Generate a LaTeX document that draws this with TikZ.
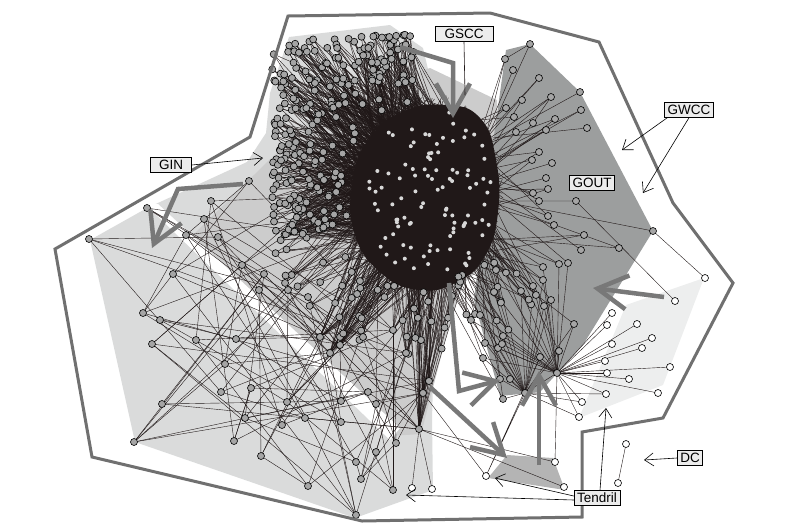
\documentclass[tikz,border=0pt]{standalone}
\usepackage{fontspec}
\setmainfont{Liberation Sans}
\usetikzlibrary{arrows.meta}

\definecolor{ginfill}{RGB}{218,219,219}
\definecolor{gsccfill}{RGB}{204,204,204}
\definecolor{goutfill}{RGB}{156,158,158}
\definecolor{tendfill}{RGB}{237,238,238}
\definecolor{tendmid}{RGB}{180,180,180}
\definecolor{wccline}{RGB}{112,112,112}
\definecolor{bigarrow}{RGB}{120,120,120}
\definecolor{edgeblack}{RGB}{32,24,24}
\definecolor{nodegray}{RGB}{165,165,165}
\definecolor{dotgray}{RGB}{215,215,215}
\definecolor{labfill}{RGB}{236,236,236}

\begin{document}
\begin{tikzpicture}[x=1pt, y=-1pt,
    vtx/.style={circle, draw=black, fill=nodegray, line width=0.6pt, inner sep=0pt, minimum size=7pt},
    wvtx/.style={vtx, fill=white},
    sdot/.style={circle, fill=dotgray, inner sep=0pt, minimum size=4pt},
    edge/.style={draw=edgeblack, line width=0.4pt},
    lab/.style={rectangle, draw=black, fill=labfill, line width=0.6pt, inner xsep=3pt, inner ysep=2.5pt, text height=9.8pt, text depth=0pt, font=\fontsize{13.5}{15}\selectfont},
    pointer/.style={draw=black, line width=0.6pt, -{Straight Barb[length=9pt,width=13pt]}},
    flow/.style={draw=bigarrow, line width=4.5pt, line join=miter, -{Straight Barb[length=30pt,width=34pt]}}
  ]
  \useasboundingbox (0,0) rectangle (792,531);

  % component areas
  \fill[ginfill] (289,37) -- (390,25) -- (423,48) -- (440,120) -- (432,420) -- (433,490) -- (355,518) -- (135,442) -- (90,240) -- (147,208) -- (247,162) -- (266,133) -- (270,93) -- cycle;
  \fill[gsccfill] (190,238) -- (320,110) -- (430,68) -- (497,100) -- (500,250) -- (462,285) -- (448,330) -- (421,434) -- (390,436) -- cycle;
  \fill[white] (145,204) -- (158,204) -- (400,428) -- (390,440) -- cycle;
  \fill[goutfill] (506,50) -- (530,44) -- (580,92) -- (653,231) -- (583,345) -- (540,392) -- (500,396) -- (474,300) -- (492,150) -- cycle;
  \fill[tendfill] (626,305) -- (704,278) -- (663,385) -- (579,418) -- cycle;
  \fill[tendmid] (488,478) -- (507,455) -- (553,458) -- (565,490) -- cycle;

  % named vertices
  \foreach \x/\y [count=\n] in {147/208, 89/239, 211/201, 204/219, 186/235, 218/237, 173/274, 264/274, 143/313, 160/320, 152/344, 196/340, 236/339, 225/364, 221/392, 162/404, 134/442, 234/441, 245/418, 251/388, 261/456, 282/425, 287/402, 305/418, 308/486, 356/462, 361/479, 393/490, 356/515, 341/422, 341/401, 368/392, 376/404, 376/452, 396/443, 249/181, 242/265, 259/290, 288/290, 308/297, 363/337}
    \coordinate (l\n) at (\x,\y);
  \foreach \x/\y [count=\n] in {419/429, 423/393, 406/353, 429/381, 393/330, 320/337, 330/353, 340/345}
    \coordinate (h\n) at (\x,\y);
  \foreach \x/\y [count=\n] in {530/44, 505/59, 513/70, 539/78, 522/100, 551/97, 580/92, 581/110, 587/128, 555/119, 533/123, 546/130, 514/117, 506/108, 516/132, 539/152, 552/163, 532/160, 546/178, 548/189, 576/201, 533/193, 539/201, 548/216, 554/225, 584/235, 653/231, 619/248, 581/250, 559/264, 568/263, 543/267, 496/270, 543/280, 521/291, 533/286, 551/300, 544/306, 574/324, 471/320, 480/315, 494/292, 503/336, 485/343, 498/348, 502/344, 483/358, 540/357, 559/351, 500/379, 510/379, 503/399}
    \coordinate (o\n) at (\x,\y);
  \coordinate (t1) at (557,373);
  \coordinate (t2) at (525,393);
  \foreach \x/\y [count=\n] in {612/313, 607/325, 637/324, 612/344, 652/338, 642/348, 605/361, 607/373, 670/367, 629/379, 606/394, 658/393, 582/402, 579/417}
    \coordinate (w\n) at (\x,\y);
  \foreach \x/\y [count=\n] in {412/488, 432/489, 486/476, 555/462, 564/487, 705/278, 675/301, 626/444, 618/483}
    \coordinate (b\n) at (\x,\y);

  \pgfmathsetseed{3}
  % in-component fan
  \foreach \i in {1,...,240}{
    \pgfmathsetmacro{\ang}{152+116*rnd}
    \pgfmathsetmacro{\rmax}{min(150/max(abs(cos(\ang)),0.01),150/max(abs(sin(\ang)),0.01),120/max(sin(\ang),0.01))-4}
    \pgfmathsetmacro{\rad}{72+(\rmax-72)*rnd^0.6}
    \coordinate (g\i) at ({418+\rad*cos(\ang)},{180+\rad*sin(\ang)});
    \foreach \k in {1,2,3}{
      \pgfmathsetmacro{\ta}{360*rnd}
      \pgfmathsetmacro{\tr}{sqrt(rnd)}
      \draw[edge] (g\i) -- ({428+60*\tr*cos(\ta)},{192+80*\tr*sin(\ta)});
    }
  }
  % nodes below the core
  \foreach \i in {1,...,60}{
    \pgfmathsetmacro{\ang}{40+115*rnd}
    \pgfmathsetmacro{\rad}{100+75*rnd}
    \coordinate (s\i) at ({415+\rad*cos(\ang)},{185+\rad*sin(\ang)});
    \foreach \k in {1,2,3}{
      \pgfmathsetmacro{\ta}{360*rnd}
      \pgfmathsetmacro{\tr}{sqrt(rnd)}
      \draw[edge] (s\i) -- ({428+60*\tr*cos(\ta)},{192+80*\tr*sin(\ta)});
    }
  }
  % hubs with dense fans
  \foreach \n/\m in {1/22, 2/12, 3/10, 4/10, 5/8, 6/14, 7/14, 8/14}{
    \foreach \k in {1,...,\m}{
      \pgfmathsetmacro{\ta}{360*rnd}
      \pgfmathsetmacro{\tr}{sqrt(rnd)}
      \draw[edge] (h\n) -- ({428+60*\tr*cos(\ta)},{192+80*\tr*sin(\ta)});
    }
  }
  % sparse lower left part
  \foreach \n in {1,...,41}{
    \pgfmathtruncatemacro{\ta}{mod(\n*7,41)+1}
    \pgfmathtruncatemacro{\hc}{mod(\n,8)+1}
    \draw[edge] (l\n) -- (l\ta);
    \draw[edge] (l\n) -- (h\hc);
  }
  \foreach \n in {2,5,...,41}{
    \pgfmathtruncatemacro{\tb}{mod(\n*17+5,41)+1}
    \draw[edge] (l\n) -- (l\tb);
  }
  \foreach \n in {1,3,...,41}{
    \pgfmathsetmacro{\ta}{360*rnd}
    \pgfmathsetmacro{\tr}{sqrt(rnd)}
    \draw[edge] (l\n) -- ({428+60*\tr*cos(\ta)},{192+80*\tr*sin(\ta)});
  }
  % out-component
  \foreach \n in {1,...,52}{
    \pgfmathsetmacro{\ta}{360*rnd}
    \pgfmathsetmacro{\tr}{sqrt(rnd)}
    \draw[edge] (o\n) -- ({428+60*\tr*cos(\ta)},{192+80*\tr*sin(\ta)});
  }
  \foreach \n in {2,4,...,52}{
    \pgfmathsetmacro{\ta}{360*rnd}
    \pgfmathsetmacro{\tr}{sqrt(rnd)}
    \draw[edge] (o\n) -- ({428+60*\tr*cos(\ta)},{192+80*\tr*sin(\ta)});
  }
  \foreach \n in {33,...,52} \draw[edge] (o\n) -- (t2);
  \foreach \n in {30,...,49} \draw[edge] (o\n) -- (t1);
  \draw[edge] (o1) -- (o2) (o6) -- (o11) (o27) -- (b6) (o21) -- (b7);
  % tendrils and small parts
  \foreach \n in {1,...,14} \draw[edge] (t1) -- (w\n);
  \draw[edge] (t2) -- (w11) (t2) -- (w13) (t2) -- (w14) (t1) -- (t2);
  \draw[edge] (h1) -- (b1) (h1) -- (b2) (h1) -- (b4) (h1) -- (b5) (t1) -- (b4);
  \draw[edge] (t2) -- (b3) (o48) -- (b3) (h2) -- (b3);
  \draw[edge] (b8) -- (b9);

  % strongly connected core
  \fill[edgeblack] plot[smooth cycle, tension=0.8] coordinates {(445,105) (480,118) (496,160) (498,212) (485,256) (457,282) (418,290) (380,272) (355,235) (352,185) (368,140) (402,112)};
  \foreach \i in {1,...,600}{
    \pgfmathsetmacro{\aa}{360*rnd}
    \pgfmathsetmacro{\ra}{sqrt(rnd)}
    \pgfmathsetmacro{\ab}{360*rnd}
    \pgfmathsetmacro{\rb}{sqrt(rnd)}
    \draw[edge] ({428+76*\ra*cos(\aa)},{192+100*\ra*sin(\aa)}) -- ({428+76*\rb*cos(\ab)},{192+100*\rb*sin(\ab)});
  }
  \foreach \i in {1,...,100}{
    \pgfmathsetmacro{\ta}{360*rnd}
    \pgfmathsetmacro{\tr}{sqrt(rnd)}
    \node[sdot] at ({430+64*\tr*cos(\ta)},{195+88*\tr*sin(\ta)}) {};
  }

  \foreach \i in {1,...,240} \node[vtx] at (g\i) {};
  \foreach \i in {1,...,60} \node[vtx] at (s\i) {};
  \foreach \n in {1,...,41} \node[vtx] at (l\n) {};
  \foreach \n in {1,...,8} \node[vtx] at (h\n) {};
  \foreach \n in {1,...,52} \node[vtx] at (o\n) {};
  \node[vtx] at (t1) {};
  \node[vtx] at (t2) {};
  \foreach \n in {1,...,14} \node[wvtx] at (w\n) {};
  \foreach \n in {1,...,9} \node[wvtx] at (b\n) {};

  % weakly connected boundary
  \draw[wccline, line width=3pt] (288,16) -- (490,13) -- (599,42) -- (673,203) -- (733,283) -- (663,418) -- (582,432) -- (582,517) -- (362,521) -- (92,457) -- (55,249) -- (250,137) -- cycle;

  % flow arrows
  \draw[flow] (400,47) -- (453,63) -- (453,118);
  \draw[flow] (243,184) -- (178,189) -- (152,248);
  \draw[flow] (664,297) -- (593,288);
  \draw[flow] (449,283) -- (459,391) -- (500,380);
  \draw[flow] (539,465) -- (539,371);
  \draw[flow] (430,387) -- (507,458);

  % labels
  \node[lab, minimum width=58pt] (gscc) at (464,34) {GSCC};
  \node[lab] (gwcc) at (689,110) {GWCC};
  \node[lab] (gout) at (592,183) {GOUT};
  \node[lab, minimum width=41pt] (gin) at (171,165) {GIN};
  \node[lab] (dc) at (690,458) {DC};
  \node[lab] (tendril) at (597,498) {Tendril};

  \coordinate (gsccend) at (465,95);
  \coordinate (wcctipa) at (622,150);
  \coordinate (wcctipb) at (643,193);
  \coordinate (gintip) at (263,158);
  \coordinate (dctip) at (644,460);
  \coordinate (tendtipa) at (406,495);
  \coordinate (tendtipb) at (495,478);
  \coordinate (tendtipc) at (606,408);
  \draw[edge, line width=0.6pt] (gscc.south) -- (gsccend);
  \draw[pointer] ([xshift=3pt]gwcc.south west) -- (wcctipa);
  \draw[pointer] (gwcc.south) -- (wcctipb);
  \draw[pointer] (gin.east) -- (gintip);
  \draw[pointer] (dc.west) -- (dctip);
  \draw[pointer] ([yshift=-2pt]tendril.west) -- (tendtipa);
  \draw[pointer] ([yshift=2pt]tendril.west) -- (tendtipb);
  \draw[pointer] ([xshift=3pt]tendril.north) -- (tendtipc);
\end{tikzpicture}
\end{document}
